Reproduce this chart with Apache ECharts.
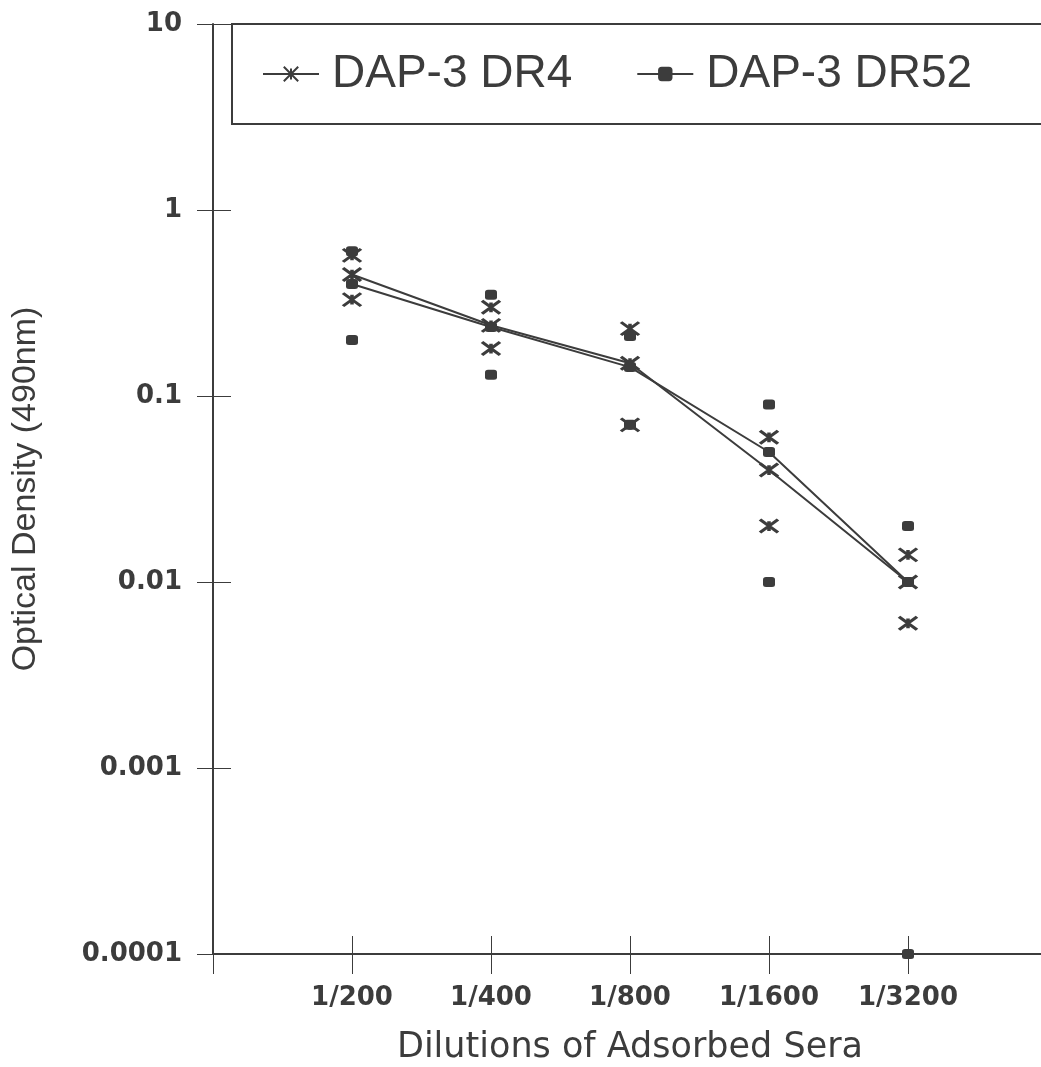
<!DOCTYPE html>
<html>
<head>
<meta charset="utf-8">
<script src="https://cdn.jsdelivr.net/npm/echarts@6/dist/echarts.min.js"></script>
<style>
  html, body { margin: 0; padding: 0; background: #fff; }
  #chart { width: 1041px; height: 1067px; }
</style>
</head>
<body>
<div id="chart"></div>
<script>
// Dilution series on the x axis (an empty slot pads each end of the axis)
const dilutions = ['1/200', '1/400', '1/800', '1/1600', '1/3200'];
const yTickLabels = ['0.0001', '0.001', '0.01', '0.1', '1', '10'];

// Optical density readings (490 nm): mean with upper and lower replicate bounds
const dr4Mean  = [0.45, 0.24, 0.15, 0.04, 0.010];
const dr4High  = [0.57, 0.30, 0.23, 0.06, 0.014];
const dr4Low   = [0.33, 0.18, 0.07, 0.02, 0.006];

const dr52Mean = [0.40, 0.235, 0.143, 0.05, 0.010];
const dr52High = [0.60, 0.35, 0.21, 0.09, 0.020];
const dr52Low  = [0.20, 0.13, 0.07, 0.01, 0.0001];

const ink = '#3c3c3c';
const axisCats = [''].concat(dilutions, ['']);
const STAR = 'path://M0,1L20,13M0,13L20,1M10,2.5L10,11.5';

const pairs = (vals) => vals.map((v, i) => [dilutions[i], v]);
const bounds = (hi, lo) => pairs(hi).concat(pairs(lo));

const chart = echarts.init(document.getElementById('chart'));

const starStyle = { color: 'none', borderColor: ink, borderWidth: 3, opacity: 1 };
const squareStyle = { color: ink, borderWidth: 0, opacity: 1 };

chart.setOption({
  animation: false,
  backgroundColor: '#fff',
  grid: { left: 213, top: 24, width: 834, height: 930, outerBoundsMode: 'none', containLabel: false },
  legend: {
    data: ['DAP-3 DR4', 'DAP-3 DR52'],
    orient: 'horizontal',
    left: 232, top: 24, width: 900,
    padding: [27, 80, 27, 30],
    borderColor: ink, borderWidth: 2,
    itemWidth: 56, itemHeight: 18, itemGap: 64,
    textStyle: { fontFamily: 'Liberation Sans', fontSize: 46, color: ink, padding: [0, 0, 0, 8] }
  },
  xAxis: [{
    type: 'category', data: axisCats, boundaryGap: false, position: 'bottom',
    axisLine: { onZero: false, lineStyle: { color: ink, width: 2 } },
    axisTick: { show: true, length: 20, lineStyle: { color: ink, width: 1 } },
    axisLabel: { margin: 31, fontFamily: 'DejaVu Sans', fontWeight: 'bold', fontSize: 26, color: ink },
    splitLine: { show: false },
    name: 'Dilutions of Adsorbed Sera', nameLocation: 'middle', nameGap: 76,
    nameTextStyle: { fontFamily: 'DejaVu Sans', fontSize: 35, color: ink }
  }, {
    type: 'category', data: axisCats, boundaryGap: false, position: 'bottom',
    axisLine: { show: false, onZero: false },
    axisTick: { show: true, inside: true, length: 18, lineStyle: { color: ink, width: 1 } },
    axisLabel: { show: false }, splitLine: { show: false }
  }],
  yAxis: [{
    type: 'log', logBase: 10, min: 0.0001, max: 10, position: 'left',
    axisLine: { show: true, onZero: false, lineStyle: { color: ink, width: 2 } },
    axisTick: { show: true, length: 16, lineStyle: { color: ink, width: 1 } },
    axisLabel: {
      margin: 31, fontFamily: 'DejaVu Sans', fontWeight: 'bold', fontSize: 26, color: ink,
      formatter: (v, i) => yTickLabels[i]
    },
    splitLine: { show: false },
    name: 'Optical Density (490nm)', nameLocation: 'middle', nameGap: 170, nameRotate: 90,
    nameTextStyle: { fontFamily: 'Liberation Sans', fontSize: 34, color: ink }
  }, {
    type: 'log', logBase: 10, min: 0.0001, max: 10, position: 'left',
    axisLine: { show: false },
    axisTick: { show: true, inside: true, length: 18, lineStyle: { color: ink, width: 1 } },
    axisLabel: { show: false }, splitLine: { show: false }
  }],
  series: [
    {
      name: 'DAP-3 DR4', type: 'line', data: pairs(dr4Mean),
      symbol: STAR, symbolSize: [18, 13], itemStyle: starStyle,
      lineStyle: { color: ink, width: 2 }, z: 3
    },
    {
      name: 'DAP-3 DR52', type: 'line', data: pairs(dr52Mean),
      symbol: 'roundRect', symbolSize: [12, 10], itemStyle: squareStyle,
      lineStyle: { color: ink, width: 2 }, z: 3
    },
    {
      name: 'DAP-3 DR4', type: 'scatter', data: bounds(dr4High, dr4Low),
      symbol: STAR, symbolSize: [18, 13], itemStyle: starStyle, z: 4
    },
    {
      name: 'DAP-3 DR52', type: 'scatter', data: bounds(dr52High, dr52Low),
      symbol: 'roundRect', symbolSize: [12, 10], itemStyle: squareStyle, z: 4
    }
  ]
});
</script>
</body>
</html>
